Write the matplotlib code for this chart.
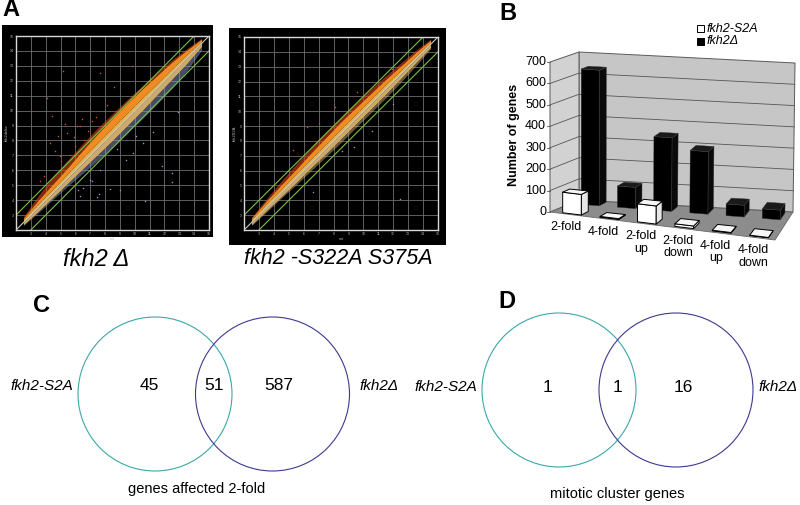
import numpy as np
import matplotlib
matplotlib.use("Agg")
import matplotlib.pyplot as plt
from matplotlib.patches import Circle, Rectangle, Polygon

plt.rcParams['font.family'] = ['Liberation Sans', 'DejaVu Sans']

# ---------------- data ----------------
# panel A: outline of the dense point cloud (log2 intensity, wt on x),
# read off the picture at these x positions
band_x = [2.5, 3.5, 4.5, 5.5, 6.5, 7.5, 8.5, 9.5, 10.5, 11.5, 12.5, 13.5, 14.5]

del_red_hi = [2.9, 4.3, 5.6, 6.7, 7.8, 8.85, 9.8, 10.75, 11.65, 12.55, 13.4, 14.15, 14.85]
del_orange_hi = [2.8, 4.0, 5.1, 6.2, 7.35, 8.45, 9.5, 10.5, 11.45, 12.35, 13.25, 14.05, 14.8]
del_core_hi = [2.7, 3.75, 4.75, 5.8, 6.85, 7.85, 8.85, 9.85, 10.85, 11.8, 12.8, 13.75, 14.65]
del_core_lo = [2.35, 3.25, 4.2, 5.15, 6.1, 7.05, 8.0, 9.0, 10.0, 11.05, 12.1, 13.15, 14.3]
del_blue_lo = [2.3, 3.15, 4.05, 4.95, 5.8, 6.65, 7.55, 8.5, 9.45, 10.45, 11.5, 12.65, 14.05]
del_red_x = [4.07, 4.4, 5.19, 7.66, 9.79, 4.29, 6.09, 6.55, 5.41, 6.42, 6.87, 4.96,
             5.64, 5.9, 6.3, 4.6, 7.1, 8.6, 3.9, 5.0, 7.4, 8.1, 4.8, 5.3, 6.0, 3.6]
del_red_y = [10.87, 9.63, 12.66, 12.55, 13.0, 7.84, 8.96, 8.05, 8.51, 9.41, 8.62, 6.94,
             7.05, 8.2, 9.0, 7.3, 9.3, 11.6, 5.6, 6.6, 9.6, 10.4, 8.3, 9.1, 7.6, 5.3]
del_blue_x = [9.9, 10.57, 11.81, 12.48, 7.66, 6.98, 6.2, 6.53, 6.31, 7.43, 7.61, 8.33,
              9.0, 10.69, 12.48, 7.1, 11.2, 12.9, 9.4, 8.8, 10.1]
del_blue_y = [7.16, 7.84, 6.26, 5.82, 6.04, 5.37, 4.69, 4.81, 4.29, 4.24, 4.42, 4.74,
              4.69, 3.97, 5.19, 5.25, 8.6, 9.9, 6.7, 7.4, 8.3]

s2a_red_hi = [2.85, 4.1, 5.3, 6.45, 7.55, 8.6, 9.6, 10.55, 11.5, 12.4, 13.25, 14.1, 14.85]
s2a_orange_hi = [2.8, 3.95, 5.05, 6.1, 7.2, 8.25, 9.3, 10.25, 11.2, 12.15, 13.05, 13.95, 14.8]
s2a_core_hi = [2.7, 3.75, 4.75, 5.8, 6.8, 7.8, 8.8, 9.8, 10.8, 11.8, 12.75, 13.7, 14.65]
s2a_core_lo = [2.35, 3.3, 4.25, 5.2, 6.2, 7.15, 8.15, 9.15, 10.15, 11.15, 12.2, 13.25, 14.3]
s2a_blue_lo = [2.3, 3.2, 4.15, 5.05, 6.0, 6.95, 7.9, 8.9, 9.9, 10.9, 11.95, 13.05, 14.2]
s2a_red_x = [6.21, 8.11, 11.9, 5.3, 7.0, 9.6]
s2a_red_y = [8.93, 10.28, 12.85, 7.4, 9.2, 11.3]
s2a_blue_x = [9.34, 6.65, 12.47, 10.6, 8.6, 12.0]
s2a_blue_y = [7.59, 4.57, 4.06, 8.7, 7.3, 10.5]

# panel B
categories = ['2-fold', '4-fold', '2-fold\nup', '2-fold\ndown', '4-fold\nup', '4-fold\ndown']
s2a_counts = [96, 4, 84, 12, 3, 1]
delta_counts = [638, 100, 345, 293, 55, 45]
yticks_b = [0, 100, 200, 300, 400, 500, 600, 700]

# panels C, D
venn_c = [45, 51, 587]
venn_d = [1, 1, 16]

W, H = 800, 505
fig = plt.figure(figsize=(W / 100, H / 100), dpi=100)
bg = fig.add_axes([0, 0, 1, 1])
bg.set_xlim(0, W)
bg.set_ylim(H, 0)
bg.axis('off')


def px_axes(x0, y0, x1, y1):
    return fig.add_axes([x0 / W, 1 - y1 / H, (x1 - x0) / W, (y1 - y0) / H])


# ---------------- panel A ----------------
def scatter_panel(box, inner, env, low_color, rx, ry, bx, by, ylab):
    red_hi, orange_hi, core_hi, core_lo, blue_lo = env
    bg.add_patch(Rectangle((box[0], box[1]), box[2] - box[0], box[3] - box[1],
                           facecolor='black', edgecolor='none'))
    ax = px_axes(*inner)
    ax.set_facecolor('black')
    ax.set_xlim(2, 15)
    ax.set_ylim(2, 15)
    ax.set_xticks(range(3, 16))
    ax.set_yticks(range(3, 16))
    ax.grid(True, color='#6e6e6e', lw=0.6)
    ax.set_axisbelow(True)
    ax.tick_params(length=0, labelsize=2.5, colors='#bbbbbb', pad=1.5)
    for s in ax.spines.values():
        s.set_color('#d8d8d8')
        s.set_linewidth(1.0)
    ax.set_xlabel('wt', fontsize=3, color='#bbbbbb', labelpad=1)
    ax.set_ylabel(ylab, fontsize=3, color='#bbbbbb', labelpad=1)

    ax.plot([2, 15], [2, 15], color='#c8c8c8', lw=0.8)
    ax.fill_between(band_x, blue_lo, core_lo, color=low_color, alpha=0.5, lw=0)
    ax.fill_between(band_x, orange_hi, red_hi, color='#e04418', alpha=0.6, lw=0)
    ax.fill_between(band_x, core_hi, orange_hi, color='#f08a22', lw=0)
    ax.fill_between(band_x, core_lo, band_x, color='#cdaa68', lw=0)
    ax.fill_between(band_x, band_x, core_hi, color='#e2b24c', lw=0)
    ax.scatter(rx, ry, s=1.2, color='#e04a22', lw=0)
    ax.scatter(bx, by, s=1.2, color='#8898c8', lw=0)

    ax.plot([2, 14], [3, 15], color='#7cc040', lw=0.8)
    ax.plot([3, 15], [2, 14], color='#7cc040', lw=0.8)
    return ax


scatter_panel((2, 25, 213, 237), (16, 36, 209, 230),
              (del_red_hi, del_orange_hi, del_core_hi, del_core_lo, del_blue_lo),
              '#8c98c4', del_red_x, del_red_y, del_blue_x, del_blue_y, 'fkh2delta')
scatter_panel((229, 28, 446, 245), (244, 37, 438, 230),
              (s2a_red_hi, s2a_orange_hi, s2a_core_hi, s2a_core_lo, s2a_blue_lo),
              '#c8b070', s2a_red_x, s2a_red_y, s2a_blue_x, s2a_blue_y, 'fkh2S2A')

bg.text(96, 259, 'fkh2 Δ', fontsize=17, style='italic', ha='center', va='center')
bg.text(338, 259, 'fkh2 -S322A S375A', fontsize=15.5, style='italic',
        ha='center', va='center')

# ---------------- panel B (3-D columns) ----------------
ncat = len(categories)
vmax = yticks_b[-1]
corners = {
    (0, 0, 0): (550, 212), (1, 0, 0): (775, 240),
    (0, 1, 0): (579, 200), (1, 1, 0): (793, 212),
    (0, 0, 1): (550, 62), (1, 0, 1): (776, 88),
    (0, 1, 1): (579, 52), (1, 1, 1): (795, 63),
}


def proj(c, d, v):
    u, w = c / ncat, v / vmax
    x = y = 0.0
    for (i, j, k), (px, py) in corners.items():
        wt = (u if i else 1 - u) * (d if j else 1 - d) * (w if k else 1 - w)
        x += wt * px
        y += wt * py
    return x, y


def face(pts, fc, ec, lw, z):
    bg.add_patch(Polygon([proj(*p) for p in pts], closed=True, facecolor=fc,
                         edgecolor=ec, lw=lw, zorder=z, joinstyle='round'))


face([(0, 0, 0), (ncat, 0, 0), (ncat, 1, 0), (0, 1, 0)], '#8c8c8c', '#6a6a6a', 0.6, 1)
face([(0, 1, 0), (ncat, 1, 0), (ncat, 1, vmax), (0, 1, vmax)], '#c6c6c6', '#5a5a5a', 0.7, 1)
face([(0, 0, 0), (0, 1, 0), (0, 1, vmax), (0, 0, vmax)], '#d2d2d2', '#5a5a5a', 0.7, 1)
for v in yticks_b[1:-1]:
    xs, ys = zip(proj(0, 0, v), proj(0, 1, v), proj(ncat, 1, v))
    bg.plot(xs, ys, color='#555555', lw=0.6, zorder=1.5)
for v in yticks_b:
    x, y = proj(0, 0, v)
    bg.plot([x - 3, x], [y, y], color='#555555', lw=0.6, zorder=1.5)
    bg.text(x - 4, y, str(v), fontsize=9, ha='right', va='center')
bg.text(514, 135, 'Number of genes', fontsize=9, fontweight='bold',
        rotation=90, ha='center', va='center')


def column(i, val, d0, d1, colors, ec, lw, z):
    c0, c1 = i + 0.3, i + 0.8
    front, side, top = colors
    face([(c0, d0, 0), (c1, d0, 0), (c1, d0, val), (c0, d0, val)], front, ec, lw, z)
    face([(c1, d0, 0), (c1, d1, 0), (c1, d1, val), (c1, d0, val)], side, ec, lw, z)
    face([(c0, d0, val), (c1, d0, val), (c1, d1, val), (c0, d1, val)], top, ec, lw, z)


for i, val in enumerate(delta_counts):
    column(i, val, 0.7, 0.95, ('#000000', '#0a0a0a', '#1a1a1a'), '#3a3a3a', 0.3, 2 + i * 0.01)
for i, val in enumerate(s2a_counts):
    column(i, val, 0.05, 0.3, ('#ffffff', '#e6e6e6', '#f6f6f6'), '#000000', 0.7, 3 + i * 0.01)

for i, lab in enumerate(categories):
    x, y = proj(i + 0.42, 0, 0)
    bg.text(x, y + 7, lab, fontsize=9, ha='center', va='top', linespacing=1.05)

bg.add_patch(Rectangle((697, 25), 7, 7, facecolor='white', edgecolor='black', lw=0.7))
bg.add_patch(Rectangle((697, 38), 7, 7, facecolor='black', edgecolor='black', lw=0.7))
bg.text(707, 28.5, 'fkh2-S2A', fontsize=9, style='italic', va='center')
bg.text(707, 41.5, 'fkh2Δ', fontsize=9, style='italic', va='center')


# ---------------- panels C, D (Venn) ----------------
def venn(cx_left, cx_right, cy, r, counts, ny, shifts, right_gap, caption, cap_xy):
    bg.add_patch(Circle((cx_left, cy), r, fill=False, ec='#3aa8a8', lw=0.8))
    bg.add_patch(Circle((cx_right, cy), r, fill=False, ec='#3c3a8e', lw=0.8))
    mid = (cx_left + cx_right) / 2
    xs = [cx_left + shifts[0], mid, cx_right + shifts[1]]
    for x, n in zip(xs, counts):
        bg.text(x, ny, str(n), fontsize=12.5, ha='center', va='center')
    bg.text(cx_left - r - 5, ny, 'fkh2-S2A', fontsize=11, style='italic',
            ha='right', va='center')
    bg.text(cx_right + r + right_gap, ny, 'fkh2Δ', fontsize=11, style='italic',
            ha='left', va='center')
    bg.text(cap_xy[0], cap_xy[1], caption, fontsize=10.5, ha='center', va='center')


venn(155, 272.5, 394, 77, venn_c, 386, (-6, 6), 10, 'genes affected 2-fold', (197, 489))
venn(559, 676, 390, 77, venn_d, 387, (-12, 7), 5, 'mitotic cluster genes', (617, 494))

for lab, x, y in [('A', 11, 10), ('B', 508, 14), ('C', 41, 305), ('D', 507, 302)]:
    bg.text(x, y, lab, fontsize=17, fontweight='bold', ha='center', va='center')

fig.savefig('out.png', dpi=100)
